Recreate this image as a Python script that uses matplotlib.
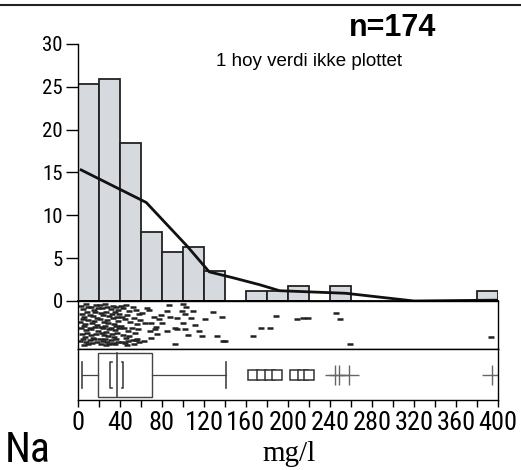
import numpy as np
import matplotlib
matplotlib.use('Agg')
from matplotlib import pyplot as plt
from matplotlib import patches

# histogram (percent of n=174), bins of 20 mg/l
bin_edges = np.arange(0, 420, 20)
hist_pct = [25.3, 25.9, 18.4, 8.0, 5.75, 6.3, 3.45, 0, 1.15, 1.15,
            1.72, 0, 1.72, 0, 0, 0, 0, 0, 0, 1.15]

# smoothed frequency curve
curve_x = [3, 65, 104, 125, 148, 173, 192, 255, 320, 400]
curve_y = [15.3, 11.5, 6.4, 3.4, 2.7, 1.9, 1.2, 0.9, 0.0, 0.1]

# strip plot of the observations (value, vertical position 0..1)
strip_x = [3, 5, 8, 10, 12, 15, 17, 19, 4, 6, 9, 11, 14, 16, 18, 2, 5, 7, 10, 13, 15, 18,
           3, 6, 8, 11, 12, 16, 19, 4, 7, 9, 12, 14, 17, 2, 5, 8, 11, 13, 15, 18, 6, 10,
           21, 23, 26, 28, 31, 33, 36, 38, 22, 24, 27, 30, 32, 35, 37, 39, 21, 25, 28, 29, 33, 34, 38,
           22, 24, 26, 30, 31, 35, 36, 39, 23, 25, 27, 29, 32, 34, 37, 21, 24, 26, 28, 31, 33, 36, 38,
           22, 27, 30, 35,
           41, 43, 46, 49, 52, 55, 58, 42, 45, 47, 50, 53, 56, 59, 41, 44, 48, 51, 54, 57, 43, 46, 49,
           52, 56, 42, 45, 48, 53, 58, 47, 55,
           61, 64, 66, 69, 70, 70, 72, 74, 75, 77, 63, 68, 73, 79,
           80, 85, 85, 87, 88, 92, 92, 94, 94, 99,
           100, 100, 102, 102, 105, 110, 111, 103, 108, 115, 118,
           121, 129, 132, 137, 138, 140,
           167, 174, 183, 189, 209, 214, 219, 246, 250, 259, 393]
strip_y = [0.90, 0.82, 0.93, 0.86, 0.88, 0.80, 0.92, 0.85, 0.72, 0.66, 0.75, 0.70, 0.68, 0.76, 0.62,
           0.55, 0.60, 0.50, 0.58, 0.52, 0.57, 0.48, 0.40, 0.45, 0.36, 0.42, 0.38, 0.44, 0.35,
           0.28, 0.22, 0.30, 0.25, 0.20, 0.27, 0.12, 0.16, 0.10, 0.14, 0.08, 0.18, 0.11, 0.04, 0.05,
           0.91, 0.85, 0.94, 0.88, 0.82, 0.90, 0.86, 0.80, 0.74, 0.70, 0.77, 0.68, 0.72, 0.76, 0.65, 0.71,
           0.60, 0.55, 0.58, 0.52, 0.62, 0.50, 0.56, 0.44, 0.40, 0.46, 0.38, 0.42, 0.36, 0.45, 0.41,
           0.30, 0.26, 0.33, 0.24, 0.28, 0.22, 0.31, 0.16, 0.12, 0.18, 0.10, 0.14, 0.08, 0.17, 0.11,
           0.05, 0.04, 0.06, 0.05,
           0.90, 0.84, 0.92, 0.78, 0.88, 0.80, 0.72, 0.66, 0.60, 0.70, 0.55, 0.62, 0.50, 0.58, 0.45,
           0.40, 0.35, 0.42, 0.30, 0.38, 0.26, 0.20, 0.24, 0.15, 0.18, 0.10, 0.08, 0.12, 0.06, 0.10,
           0.03, 0.14,
           0.73, 0.52, 0.84, 0.35, 0.52, 0.20, 0.66, 0.44, 0.28, 0.60, 0.12, 0.80, 0.38, 0.70,
           0.52, 0.79, 0.35, 0.92, 0.65, 0.42, 0.06, 0.38, 0.62, 0.79,
           0.94, 0.52, 0.71, 0.38, 0.25, 0.79, 0.48, 0.88, 0.62, 0.34, 0.23,
           0.60, 0.75, 0.23, 0.66, 0.12, 0.13,
           0.23, 0.42, 0.42, 0.67, 0.60, 0.62, 0.62, 0.73, 0.60, 0.05, 0.22]

# box plot summary
box_lo, box_q1, box_med, box_q3, box_hi = 4, 19, 37, 70.5, 141
ci_lo, ci_hi = 30.5, 43
outliers_far = [167, 175, 183, 190, 207, 214, 220]
outliers_ext = [245, 249, 258, 394]

narrow = ['Roboto Condensed', 'DejaVu Sans']

fig = plt.figure(figsize=(5.21, 4.70), dpi=100)
left, width = 0.1497, 0.806

# --- histogram ---
ax = fig.add_axes([left, 0.3596, width, 0.5468])
keep = [i for i, v in enumerate(hist_pct) if v > 0]
ax.bar(bin_edges[:-1][keep], np.array(hist_pct)[keep], width=20, align='edge',
       color='#d6d9de', edgecolor='#222222', linewidth=1.3)
ax.plot(curve_x, curve_y, color='#111111', lw=2.0)
ax.set_xlim(0, 400)
ax.set_ylim(0, 30)
ax.set_yticks(range(0, 31, 5))
ax.set_xticks([])
for s in ['top', 'right']:
    ax.spines[s].set_visible(False)
ax.spines['left'].set_linewidth(1.0)
ax.spines['bottom'].set_linewidth(1.3)
ax.tick_params(axis='y', length=9, width=1.0, pad=2, labelsize=15)
for t in ax.get_yticklabels():
    t.set_family(narrow)

# --- strip panel ---
sx = fig.add_axes([left, 0.2574, width, 0.1021])
sx.plot(strip_x, strip_y, ls='none', marker='_', ms=5, mew=1.8, color='#222222')
sx.set_xlim(0, 400)
sx.set_ylim(-0.05, 1.0)
sx.set_xticks([])
sx.set_yticks([])
for s in sx.spines.values():
    s.set_linewidth(1.0)

# --- box panel ---
bx = fig.add_axes([left, 0.1489, width, 0.1085])
gc = '#444444'
bx.add_patch(patches.Rectangle((box_q1, 0.06), box_q3 - box_q1, 0.86,
                               fill=False, edgecolor=gc, lw=1.0))
bx.plot([box_med, box_med], [0.06, 0.92], color=gc, lw=1.2)
bx.plot([box_lo, box_q1], [0.49, 0.49], color=gc, lw=0.9)
bx.plot([box_q3, box_hi], [0.49, 0.49], color=gc, lw=0.9)
bx.plot([box_lo, box_lo], [0.23, 0.74], color=gc, lw=1.2)
bx.plot([box_hi, box_hi], [0.23, 0.74], color=gc, lw=1.2)
# confidence brackets
bx.plot([ci_lo + 1.5, ci_lo, ci_lo, ci_lo + 1.5], [0.74, 0.74, 0.24, 0.24], color=gc, lw=1.2)
bx.plot([ci_hi - 1.5, ci_hi, ci_hi, ci_hi - 1.5], [0.74, 0.74, 0.24, 0.24], color=gc, lw=1.2)
bx.plot(outliers_far, [0.49] * len(outliers_far), ls='none', marker='s', ms=7,
        mfc='white', mec='#333333', mew=1.1)
bx.plot(outliers_ext, [0.49] * len(outliers_ext), ls='none', marker='+', ms=15,
        color='#666666', mew=1.0)
bx.set_xlim(0, 400)
bx.set_ylim(0, 1)
bx.set_yticks([])
bx.set_xticks(range(0, 401, 20))
bx.set_xticklabels([str(v) if v % 40 == 0 else '' for v in range(0, 401, 20)])
bx.tick_params(axis='x', length=5, width=1.0, pad=3, labelsize=19)
for t in bx.get_xticklabels():
    t.set_family(narrow)
for s in bx.spines.values():
    s.set_linewidth(1.0)

# --- texts ---
fig.text(393 / 521, 1 - 28 / 470, 'n=174', ha='center', va='center',
         fontsize=22, fontweight='bold', family=['Liberation Sans', 'DejaVu Sans'])
fig.text(309 / 521, 1 - 62 / 470, '1 hoy verdi ikke plottet', ha='center', va='center',
         fontsize=13.5, family=['Liberation Sans', 'DejaVu Sans'])
fig.text(5 / 521, 1 - 450 / 470, 'Na', ha='left', va='center', fontsize=30, family=narrow)
fig.text(289 / 521, 1 - 454 / 470, 'mg/l', ha='center', va='center', fontsize=21,
         family=['Liberation Serif', 'DejaVu Serif'])

# top border from the scanned page
fig.add_artist(plt.Line2D([0, 1], [1 - 5 / 470, 1 - 5 / 470], color='#222222', lw=1.5))

fig.savefig('out.png', dpi=100)
